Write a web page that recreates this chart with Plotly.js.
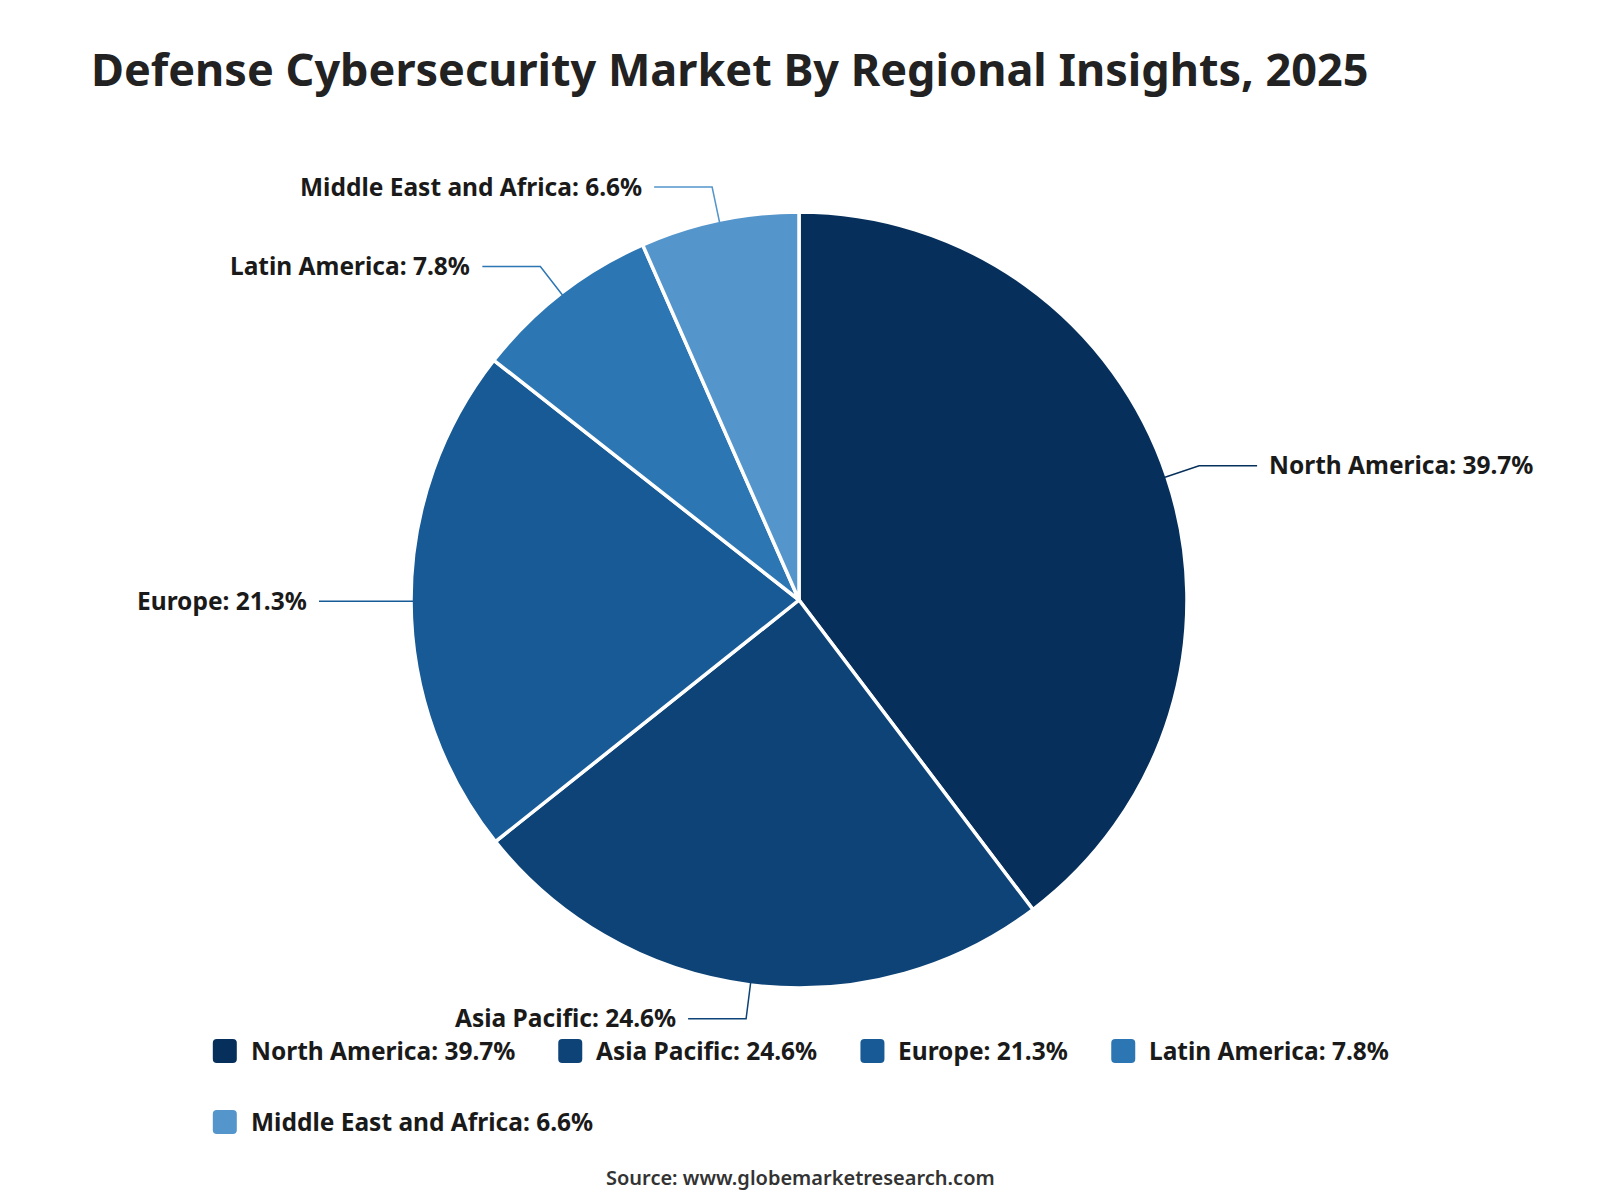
<!DOCTYPE html>
<html>
<head>
<meta charset="utf-8">
<script src="https://cdn.plot.ly/plotly-3.0.1.min.js"></script>
<style>
  html, body { margin: 0; padding: 0; background: #ffffff; }
  #chart { width: 1600px; height: 1200px; }
</style>
</head>
<body>
<div id="chart"></div>
<script>
// Regional shares of the defense cybersecurity market, 2025 (%)
const regions = ['North America', 'Asia Pacific', 'Europe', 'Latin America', 'Middle East and Africa'];
const shares = [39.7, 24.6, 21.3, 7.8, 6.6];
const colors = ['#06305b', '#0d4377', '#175a96', '#2c76b3', '#5495cb'];
const titleText = 'Defense Cybersecurity Market By Regional Insights, 2025';
const sourceText = 'Source: www.globemarketresearch.com';

// Canvas geometry (pixels)
const W = 1600, H = 1200;
const CX = 799, CY = 600, R = 388;
const px = x => x / W;
const py = y => 1 - y / H;

const FONT = '"Noto Sans", "Open Sans", sans-serif';
const LABEL_SIZE = 24.5;
const labelTexts = regions.map((r, i) => r + ': ' + shares[i].toFixed(1) + '%');

const shapes = [];
const annotations = [];

// Leader lines and outside labels, placed at each slice's mid-angle
const total = shares.reduce((a, b) => a + b, 0);
let acc = 0;
shares.forEach((v, i) => {
  const mid = (acc + v / 2) / total * 2 * Math.PI;
  acc += v;
  const sx = Math.sin(mid), sy = -Math.cos(mid);
  const p0 = [CX + (R - 2) * sx, CY + (R - 2) * sy];
  const p1 = [CX + (R + 34) * sx, CY + (R + 34) * sy];
  const dir = sx >= 0 ? 1 : -1;
  const p2 = [p1[0] + dir * 58, p1[1]];
  shapes.push({
    type: 'path', xref: 'paper', yref: 'paper',
    path: `M${px(p0[0])},${py(p0[1])} L${px(p1[0])},${py(p1[1])} L${px(p2[0])},${py(p2[1])}`,
    line: { color: colors[i], width: 1.5 }
  });
  annotations.push({
    xref: 'paper', yref: 'paper',
    x: px(p2[0] + dir * 10), y: py(p2[1] - 1),
    xanchor: dir > 0 ? 'left' : 'right', yanchor: 'middle',
    text: '<b>' + labelTexts[i] + '</b>', showarrow: false,
    font: { family: FONT, size: LABEL_SIZE, color: '#1a1a1a' }
  });
});

// Legend: rounded colour keys with text, wrapped into centred rows
const ctx = document.createElement('canvas').getContext('2d');
ctx.font = 'bold ' + LABEL_SIZE + 'px "Noto Sans"';
const KEY = 24, KEY_GAP = 12, ITEM_GAP = 45, ROW_H = 71, MAX_ROW = 1400;
const items = labelTexts.map((t, i) => ({ i, t, w: KEY + KEY_GAP + ctx.measureText(t).width }));
const rows = [[]];
let rowW = 0;
items.forEach(it => {
  const add = (rows[rows.length - 1].length ? ITEM_GAP : 0) + it.w;
  if (rowW + add > MAX_ROW && rows[rows.length - 1].length) {
    rows.push([it]); rowW = it.w;
  } else {
    rows[rows.length - 1].push(it); rowW += add;
  }
});
const rowWidths = rows.map(r => r.reduce((s, it, k) => s + it.w + (k ? ITEM_GAP : 0), 0));
const legendLeft = W / 2 - Math.max(...rowWidths) / 2;
const LEGEND_TOP = 1051;

function roundRect(x, y, w, h, r) {
  return `M${px(x + r)},${py(y)} L${px(x + w - r)},${py(y)} Q${px(x + w)},${py(y)} ${px(x + w)},${py(y + r)} ` +
         `L${px(x + w)},${py(y + h - r)} Q${px(x + w)},${py(y + h)} ${px(x + w - r)},${py(y + h)} ` +
         `L${px(x + r)},${py(y + h)} Q${px(x)},${py(y + h)} ${px(x)},${py(y + h - r)} ` +
         `L${px(x)},${py(y + r)} Q${px(x)},${py(y)} ${px(x + r)},${py(y)} Z`;
}

rows.forEach((row, ri) => {
  const yc = LEGEND_TOP + ri * ROW_H;
  let x = legendLeft;
  row.forEach(it => {
    shapes.push({
      type: 'path', xref: 'paper', yref: 'paper',
      path: roundRect(x, yc - KEY / 2, KEY, KEY, 4),
      fillcolor: colors[it.i], line: { width: 0 }
    });
    annotations.push({
      xref: 'paper', yref: 'paper',
      x: px(x + KEY + KEY_GAP), y: py(yc - 1),
      xanchor: 'left', yanchor: 'middle',
      text: '<b>' + it.t + '</b>', showarrow: false,
      font: { family: FONT, size: LABEL_SIZE, color: '#1a1a1a' }
    });
    x += it.w + ITEM_GAP;
  });
});

// Source line
annotations.push({
  xref: 'paper', yref: 'paper', x: 0.5, y: py(1177),
  xanchor: 'center', yanchor: 'middle',
  text: sourceText, showarrow: false,
  font: { family: FONT, size: 20, color: '#333333', weight: 600 }
});

const trace = {
  type: 'pie',
  labels: regions,
  values: shares,
  sort: false,
  direction: 'clockwise',
  rotation: 0,
  textinfo: 'none',
  hoverinfo: 'label+percent',
  showlegend: false,
  marker: { colors: colors, line: { color: '#ffffff', width: 3.5 } },
  domain: { x: [px(CX - R), px(CX + R)], y: [py(CY + R), py(CY - R)] }
};

const layout = {
  width: W, height: H,
  margin: { l: 0, r: 0, t: 0, b: 0 },
  paper_bgcolor: '#ffffff',
  plot_bgcolor: '#ffffff',
  showlegend: false,
  title: {
    text: '<b>' + titleText + '</b>',
    x: px(91), xanchor: 'left', xref: 'paper',
    y: py(70), yanchor: 'middle', yref: 'container',
    font: { family: FONT, size: 45, color: '#222222' }
  },
  shapes: shapes,
  annotations: annotations
};

Plotly.newPlot('chart', [trace], layout, { displayModeBar: false, staticPlot: true });
</script>
</body>
</html>
